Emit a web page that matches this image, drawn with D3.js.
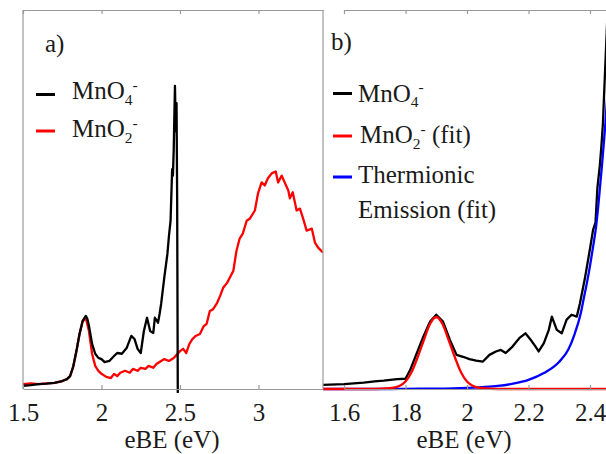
<!DOCTYPE html>
<html><head><meta charset="utf-8"><script src="https://cdn.jsdelivr.net/npm/d3@7"></script></head>
<body style="margin:0">
<svg id="s" width="606" height="454"></svg>
<script>
// ---------- DATA ----------
// Panel a: MnO4- spectrum (black)
const aBlackE = [1.50,1.55,1.60,1.65,1.70,1.75,1.78,1.80,1.82,1.84,1.86,1.88,1.90,1.91,1.92,1.94,1.96,1.98,2.00,2.02,2.05,2.08,2.10,2.13,2.16,2.19,2.21,2.23,2.25,2.27,2.29,2.31,2.33,2.34,2.36,2.37,2.38,2.40,2.42,2.43,2.44,2.45,2.455,2.46,2.468,2.473,2.478,2.482,2.486];
const aBlackI = [0.008,0.010,0.013,0.014,0.016,0.021,0.026,0.034,0.060,0.100,0.145,0.180,0.193,0.185,0.167,0.119,0.093,0.082,0.079,0.071,0.074,0.087,0.095,0.093,0.108,0.140,0.132,0.106,0.095,0.153,0.188,0.153,0.148,0.188,0.175,0.198,0.225,0.294,0.357,0.405,0.444,0.580,0.563,0.630,0.800,0.680,0.754,0.500,-0.012];
// Panel a: MnO2- spectrum (red)
const aRedE = [1.50,1.55,1.60,1.65,1.70,1.75,1.78,1.80,1.82,1.84,1.86,1.88,1.90,1.92,1.94,1.96,1.98,2.00,2.03,2.06,2.08,2.10,2.12,2.15,2.18,2.20,2.23,2.25,2.28,2.30,2.33,2.35,2.38,2.40,2.43,2.46,2.50,2.52,2.54,2.56,2.58,2.60,2.627,2.65,2.67,2.69,2.71,2.734,2.755,2.775,2.80,2.818,2.84,2.86,2.88,2.90,2.925,2.946,2.977,2.997,3.02,3.04,3.06,3.084,3.11,3.125,3.148,3.17,3.19,3.20,3.218,3.243,3.264,3.284,3.307,3.34,3.36,3.38,3.41];
const aRedI = [0.013,0.015,0.013,0.015,0.016,0.021,0.026,0.034,0.058,0.098,0.145,0.178,0.188,0.153,0.093,0.061,0.048,0.040,0.032,0.029,0.040,0.034,0.043,0.048,0.043,0.053,0.048,0.056,0.053,0.061,0.056,0.066,0.074,0.079,0.074,0.082,0.100,0.106,0.095,0.119,0.132,0.140,0.145,0.165,0.172,0.206,0.210,0.225,0.245,0.267,0.280,0.294,0.312,0.365,0.397,0.410,0.444,0.450,0.471,0.516,0.545,0.537,0.556,0.569,0.574,0.545,0.563,0.542,0.524,0.503,0.519,0.471,0.476,0.450,0.418,0.423,0.386,0.373,0.360];
// Panel b: MnO4- spectrum (black)
const bBlackE = [1.532,1.60,1.664,1.70,1.729,1.773,1.80,1.815,1.837,1.858,1.88,1.90,1.922,1.944,1.966,1.987,2.008,2.03,2.051,2.073,2.094,2.11,2.126,2.148,2.17,2.19,2.207,2.223,2.233,2.25,2.266,2.276,2.292,2.308,2.324,2.34,2.357,2.367,2.383,2.40,2.41,2.418,2.424,2.432,2.437,2.442,2.447,2.46];
const bBlackI = [0.011,0.013,0.017,0.020,0.022,0.026,0.027,0.050,0.095,0.138,0.178,0.196,0.178,0.130,0.090,0.085,0.079,0.075,0.072,0.090,0.099,0.103,0.095,0.112,0.134,0.147,0.130,0.112,0.099,0.121,0.156,0.191,0.156,0.147,0.183,0.196,0.191,0.225,0.290,0.370,0.420,0.440,0.530,0.590,0.640,0.700,0.800,1.05];
// Panel b: MnO2- fit (red)
const bRedE = [1.532,1.70,1.75,1.78,1.80,1.82,1.84,1.86,1.88,1.90,1.92,1.94,1.96,1.98,2.00,2.02,2.05,2.10,2.50];
const bRedI = [0,0,0.002,0.008,0.020,0.045,0.085,0.130,0.172,0.190,0.172,0.130,0.085,0.045,0.020,0.008,0.002,0,0];
// Panel b: thermionic emission fit (blue)
const bBlueE = [1.532,1.75,1.80,1.90,2.00,2.05,2.10,2.15,2.20,2.25,2.30,2.33,2.35,2.37,2.38,2.39,2.40,2.41,2.42,2.43,2.44,2.45,2.46];
const bBlueI = [0,0,0.0005,0.001,0.003,0.005,0.008,0.014,0.024,0.042,0.072,0.105,0.145,0.200,0.240,0.280,0.325,0.375,0.430,0.510,0.600,0.700,0.820];
// Tick labels
const aTicks = [1.5, 2, 2.5, 3];
const bTicks = [1.6, 1.8, 2, 2.2, 2.4];
const xLabel = "eBE (eV)";

// ---------- LAYOUT ----------
const svg = d3.select("#s");
const yTop = 10, yBot = 389;
const aL = 23, aR = 323, bL = 323, bR = 640;
const axisColor = "#999";
const FONT = "Liberation Serif";
const FSTYLE = "font-family: 'Liberation Serif', 'Times New Roman', Times, serif !important";
const FS = 25;
const TXT = "#1a1a1a";

const y = d3.scaleLinear().domain([0, 1]).range([yBot, yTop]);
const xa = d3.scaleLinear().domain([1.5, 3.411]).range([aL, aR]);
const pxPerEv = (590 - 344) / 0.8;
const xb = d3.scaleLinear().domain([1.6, 1.6 + (bR - 344) / pxPerEv]).range([344, bR]);

const defs = svg.append("defs");
defs.append("clipPath").attr("id", "clipA").append("rect")
  .attr("x", aL).attr("y", yTop).attr("width", aR - aL).attr("height", yBot - yTop + 4);
defs.append("clipPath").attr("id", "clipB").append("rect")
  .attr("x", bL).attr("y", yTop).attr("width", bR - bL).attr("height", yBot - yTop + 4);

function series(E, I) { return E.map((e, i) => [e, I[i]]); }

function drawLine(g, x, data, color, curve) {
  g.append("path").datum(data)
    .attr("fill", "none").attr("stroke", color).attr("stroke-width", 2.3)
    .attr("stroke-linejoin", "round")
    .attr("d", d3.line().x(d => x(d[0])).y(d => y(d[1])).curve(curve || d3.curveLinear));
}

// ---------- PANEL A ----------
const gA = svg.append("g").attr("clip-path", "url(#clipA)");
drawLine(gA, xa, series(aRedE, aRedI), "#ff0000");
drawLine(gA, xa, series(aBlackE, aBlackI), "#000000");

// ---------- PANEL B ----------
const gB = svg.append("g").attr("clip-path", "url(#clipB)");
drawLine(gB, xb, series(bBlackE, bBlackI), "#000000");
drawLine(gB, xb, series(bBlueE, bBlueI), "#0000ff", d3.curveMonotoneX);
drawLine(gB, xb, series(bRedE, bRedI), "#ff0000", d3.curveMonotoneX);

// ---------- AXES / FRAMES ----------
function styleAxis(g) {
  g.attr("font-family", FONT).attr("font-size", FS);
  g.selectAll("path.domain").attr("stroke", axisColor).attr("stroke-width", 1.2);
  g.selectAll(".tick line").attr("stroke", axisColor).attr("stroke-width", 1.2);
  g.selectAll(".tick text").attr("font-size", FS).attr("fill", TXT)
    .attr("font-family", FONT).attr("style", FSTYLE);
}
const fmt = d => String(d);
svg.append("g").attr("transform", `translate(0,${yBot})`)
  .call(d3.axisBottom(xa).tickValues(aTicks).tickFormat(fmt).tickSize(-4).tickSizeOuter(0).tickPadding(14.5))
  .call(styleAxis);
svg.append("g").attr("transform", `translate(0,${yTop})`)
  .call(d3.axisTop(xa).tickValues(aTicks).tickFormat("").tickSize(-4).tickSizeOuter(0))
  .call(styleAxis);
svg.append("g").attr("transform", `translate(0,${yBot})`)
  .call(d3.axisBottom(xb).tickValues(bTicks).tickFormat(fmt).tickSize(-4).tickSizeOuter(0).tickPadding(14.5))
  .call(styleAxis);
svg.append("g").attr("transform", `translate(0,${yTop})`)
  .call(d3.axisTop(xb).tickValues(bTicks).tickFormat("").tickSize(-4).tickSizeOuter(0))
  .call(styleAxis);
// vertical frame lines
[aL, aR].forEach(xv => svg.append("line")
  .attr("x1", xv).attr("x2", xv).attr("y1", yTop).attr("y2", yBot)
  .attr("stroke", axisColor).attr("stroke-width", 1.2));

function txt(x, yv, s, anchor) {
  const t = svg.append("text").attr("x", x).attr("y", yv)
    .attr("font-size", FS).attr("font-family", FONT).attr("style", FSTYLE)
    .attr("fill", TXT).attr("text-anchor", anchor || "start");
  if (s != null) t.text(s);
  return t;
}
// axis titles
txt(172, 448, xLabel, "middle");
txt(464, 448, xLabel, "middle");

// panel letters
txt(45, 52, "a)");
txt(331, 50, "b)");

// ---------- LEGENDS ----------
function chem(x, yb, sub, rest) {
  const fs = FS;
  const t = txt(x, yb, null);
  t.append("tspan").attr("style", FSTYLE).text("MnO");
  t.append("tspan").attr("style", FSTYLE).attr("font-size", fs * 0.62).attr("dy", fs * 0.22).text(sub);
  t.append("tspan").attr("style", FSTYLE).attr("font-size", fs * 0.62).attr("dy", -fs * 0.6).text("-");
  if (rest) t.append("tspan").attr("style", FSTYLE).attr("dy", fs * 0.38).text(rest);
  return t;
}
function swatch(x1, x2, yv, color) {
  svg.append("line").attr("x1", x1).attr("x2", x2).attr("y1", yv).attr("y2", yv)
    .attr("stroke", color).attr("stroke-width", 3);
}
// panel a legend
swatch(36, 55, 94.5, "#000");
swatch(36, 55, 131, "#ff0000");
chem(72, 99, "4", null);
chem(72, 137, "2", null);

// panel b legend
swatch(333, 352, 93.5, "#000");
swatch(333, 352, 136, "#ff0000");
swatch(333, 352, 177, "#0000ff");
chem(358, 101.5, "4", null);
chem(360, 143, "2", " (fit)");
txt(358, 183, "Thermionic");
txt(358, 218, "Emission (fit)");
</script>
</body>
</html>
